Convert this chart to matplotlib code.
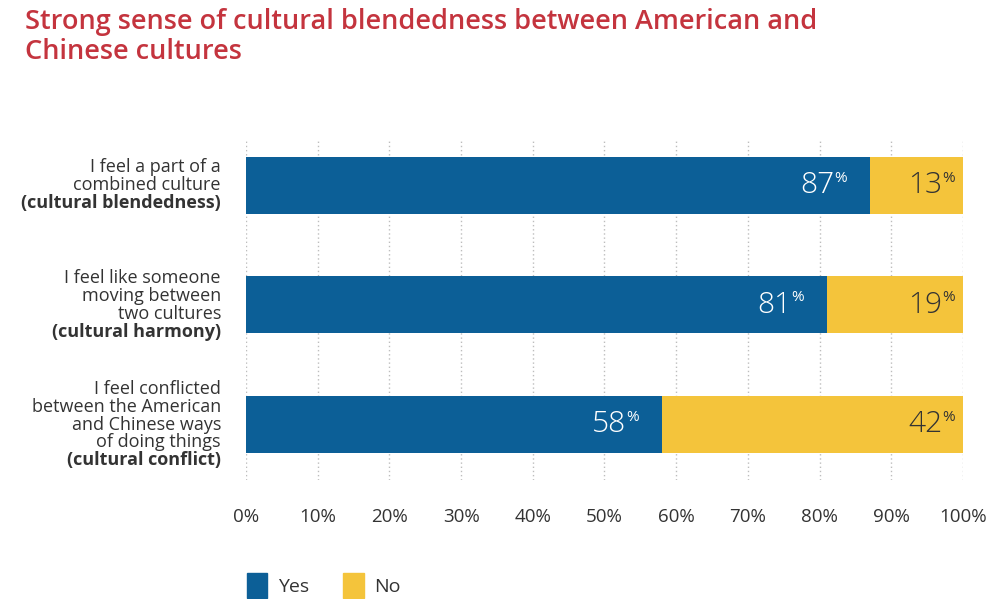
import matplotlib
matplotlib.use("Agg")
import matplotlib.pyplot as plt
from matplotlib.patches import Patch

plt.rcParams["font.family"] = ["Open Sans", "DejaVu Sans"]

# statement text, last line is the bold short name
statements = [
    ["I feel a part of a", "combined culture", "(cultural blendedness)"],
    ["I feel like someone", "moving between", "two cultures", "(cultural harmony)"],
    ["I feel conflicted", "between the American", "and Chinese ways", "of doing things", "(cultural conflict)"],
]
yes_pct = [87, 81, 58]
no_pct = [13, 19, 42]
ticks = list(range(0, 101, 10))
tick_labels = [f"{t}%" for t in ticks]

BLUE = "#0c5f97"
YELLOW = "#f4c43b"
RED = "#c4343e"
DARK = "#333333"

fig = plt.figure(figsize=(9.89, 5.99), dpi=100)
ax = fig.add_axes([0.2487, 0.199, 0.725, 0.567])

ypos = list(range(len(statements)))
ax.barh(ypos, yes_pct, height=0.475, color=BLUE, zorder=2)
ax.barh(ypos, no_pct, left=yes_pct, height=0.475, color=YELLOW, zorder=2)

ax.set_xlim(0, 100)
ax.set_ylim(2.46, -0.375)
ax.set_xticks(ticks)
ax.set_xticklabels(tick_labels, fontsize=13.5, color=DARK)
ax.tick_params(axis="x", length=0, pad=20)
ax.set_yticks([])
for s in ax.spines.values():
    s.set_visible(False)
for t in ticks:
    ax.axvline(t, color="#bdbdbd", lw=1, ls=(0, (1, 2)), zorder=1)

# value labels: big number followed by a small raised percent sign
pct_w = 9.5
for y, yv, nv in zip(ypos, yes_pct, no_pct):
    for end, val, col, pad in [(yv, yv, "white", 16), (100, nv, DARK, 5.5)]:
        ax.annotate("%", (end, y), xytext=(-pad - pct_w, 5), textcoords="offset points",
                    ha="left", va="center", fontsize=11, color=col, zorder=3)
        ax.annotate(f"{val}", (end, y), xytext=(-pad - pct_w, 0), textcoords="offset points",
                    ha="right", va="center", fontsize=21.5, color=col,
                    fontweight="light", zorder=3)

# category labels, one text per line so the last line can be bold
line_h = 12.8
for y, lines in zip(ypos, statements):
    n = len(lines)
    for i, line in enumerate(lines):
        off = ((n - 1) / 2 - i) * line_h
        ax.annotate(line, (0, y), xytext=(-18, off), textcoords="offset points",
                    ha="right", va="center", fontsize=13, color=DARK,
                    fontweight="bold" if i == n - 1 else "normal",
                    annotation_clip=False)

fig.text(0.025, 0.987, "Strong sense of cultural blendedness between American and\nChinese cultures",
         ha="left", va="top", fontsize=19.5, color=RED, fontweight="semibold",
         linespacing=1.12)

handles = [Patch(color=BLUE), Patch(color=YELLOW)]
fig.legend(handles, ["Yes", "No"], loc="upper left", bbox_to_anchor=(0.232, 0.072),
           ncol=2, frameon=False, fontsize=14, handlelength=1.05, handleheight=1.6,
           columnspacing=1.75, handletextpad=0.55, labelcolor=DARK)

fig.savefig("out.png", dpi=100)
